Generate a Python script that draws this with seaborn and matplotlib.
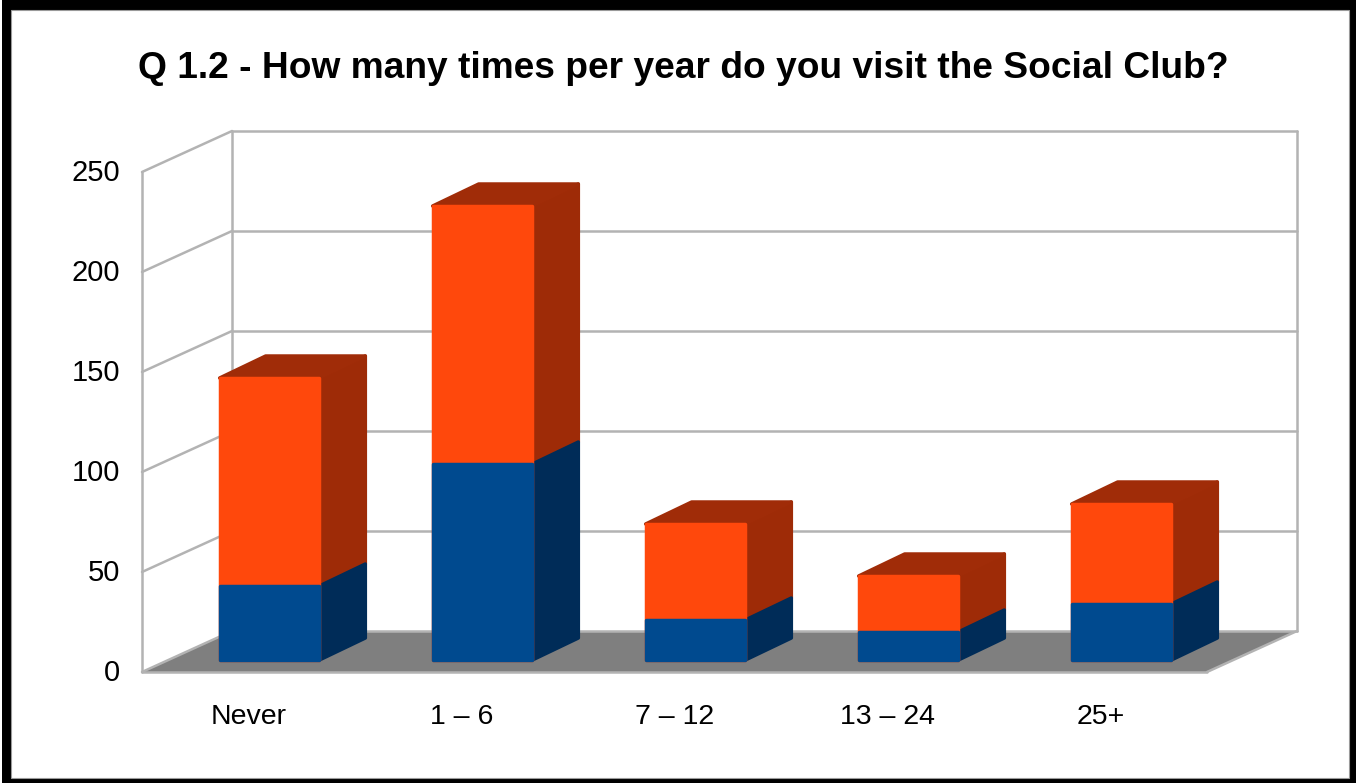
import numpy as np
import pandas as pd
import seaborn as sns
import matplotlib.pyplot as plt
from matplotlib.patches import Polygon, Rectangle
from matplotlib.transforms import Affine2D, IdentityTransform

categories = ['Never', '1 – 6', '7 – 12', '13 – 24', '25+']
blue_values = [37, 98, 20, 14, 28]
orange_values = [104, 129, 48, 28, 50]
y_ticks = [0, 50, 100, 150, 200, 250]

sns.set_style("white")
plt.rcParams['font.family'] = ['Liberation Sans', 'DejaVu Sans']

W, H = 1356, 783
fig = plt.figure(figsize=(W / 100, H / 100), dpi=100, facecolor='black')

# white sheet inside the black frame (pixels of the picture, y from the top)
pixels = IdentityTransform()
fig.add_artist(Rectangle((11, H - 778), 1338, 768, transform=pixels, facecolor='white',
                         edgecolor='#9a9a9a', lw=0.8, zorder=-2))
fig.add_artist(Rectangle((0, 0), 2, H, transform=pixels, facecolor='white', edgecolor='none', zorder=-2))

# axes = front plane of the 3d box
left, right, base, top = 142, 1207, 672, 172
ax = fig.add_axes([left / W, 1 - base / H, (right - left) / W, (base - top) / H])
ax.patch.set_alpha(0)

df = pd.DataFrame({'cat': categories, 'blue': blue_values, 'orange': orange_values})
df['total'] = df['blue'] + df['orange']

bar_w = 0.468
sns.barplot(data=df, x='cat', y='total', color='#ff480c', saturation=1, width=bar_w, ax=ax, zorder=5)
sns.barplot(data=df, x='cat', y='blue', color='#004a8f', saturation=1, width=bar_w, ax=ax, zorder=6)
bars = list(ax.patches)
ax.set_xlim(-0.5, 4.5)
ax.set_ylim(0, 250)
ax.set_xlabel('')
ax.set_ylabel('')
ax.set_yticks(y_ticks)
ax.tick_params(axis='both', length=0, colors='black')
ax.tick_params(axis='x', pad=23, labelsize=20.5)
ax.tick_params(axis='y', pad=15.5, labelsize=21)
for lab in ax.get_yticklabels():
    lab.set_transform(lab.get_transform() + Affine2D().translate(0, 2))
sns.despine(ax=ax, left=True, bottom=True)


def line(xs, ys, **kw):
    ax.add_line(plt.Line2D(xs, ys, transform=pixels, clip_on=False, **kw))


grey = '#b3b3b3'
depth_x, depth_y = 90, 41
grid = dict(color=grey, lw=1.8, zorder=2)
base_y, top_y = H - base, H - top

ax.add_patch(Polygon([[left, base_y], [right, base_y], [right + depth_x, base_y + depth_y], [left + depth_x, base_y + depth_y]],
                     closed=True, transform=pixels, facecolor='#7f7f7f', edgecolor='none', zorder=1, clip_on=False))

# back wall, side wall and floor lines
for v in y_ticks:
    x0, y0 = ax.transData.transform((-0.5, v))
    x1, _ = ax.transData.transform((4.5, v))
    line([x0 + depth_x, x1 + depth_x], [y0 + depth_y, y0 + depth_y], **grid)
    line([x0, x0 + depth_x], [y0, y0 + depth_y], **grid)
line([left, right], [base_y, base_y], **grid)
line([right, right + depth_x], [base_y, base_y + depth_y], **grid)
line([left, left], [base_y, top_y], **grid)
line([left + depth_x, left + depth_x], [base_y + depth_y, top_y + depth_y], **grid)
line([right + depth_x, right + depth_x], [base_y + depth_y, top_y + depth_y], **grid)

# bars sit inside the box: move the fronts, add the side and top faces
off_x, off_y = 21, 12
bar_dx, bar_dy = 46, 22
d = np.array([bar_dx, bar_dy])
for i, (b, t) in enumerate(zip(blue_values, df['total'])):
    x0, x1 = i - bar_w / 2, i + bar_w / 2
    a = ax.transData.transform([(x0, 0), (x1, 0), (x1, b), (x1, t), (x0, t)]) + [off_x, off_y]
    side_blue = [a[1], a[2], a[2] + d, a[1] + d]
    side_orange = [a[2], a[3], a[3] + d, a[2] + d]
    top_face = [a[4], a[3], a[3] + d, a[4] + d]
    for pts, c, z in [(side_orange, '#9e2b07', 3), (top_face, '#a02c08', 3), (side_blue, '#002c58', 4)]:
        ax.add_patch(Polygon(pts, closed=True, transform=pixels, facecolor=c, edgecolor=c, lw=2.5,
                             joinstyle='round', zorder=z, clip_on=False))

front = ax.transData + Affine2D().translate(off_x, off_y)
for patch in bars:
    patch.set_transform(front)
    patch.set_clip_on(False)
    patch.set_edgecolor(patch.get_facecolor())
    patch.set_linewidth(2.5)
    patch.set_joinstyle('round')

fig.text(683 / W, 1 - 69 / H, 'Q 1.2 - How many times per year do you visit the Social Club?',
         ha='center', va='center', fontsize=26.7, fontweight='bold', color='black')

fig.savefig('out.png', dpi=100, facecolor=fig.get_facecolor())
